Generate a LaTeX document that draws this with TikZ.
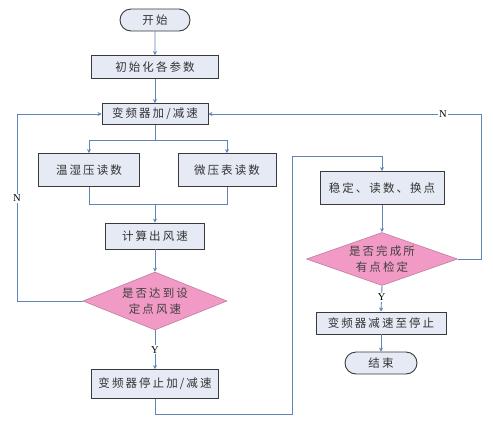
\documentclass[tikz,border=0pt]{standalone}
\usepackage{fontspec}
\setmainfont{Liberation Serif}
\newfontfamily\cjk[LetterSpace=18]{Noto Sans CJK SC}
\usetikzlibrary{shapes.geometric,shapes.misc,arrows.meta}
\definecolor{boxfill}{HTML}{E6EAF5}
\definecolor{lineblue}{HTML}{5F84B8}
\definecolor{diafill}{HTML}{F29AC6}
\definecolor{bordr}{HTML}{3A3A3A}
\tikzset{
  procbox/.style={draw=bordr, line width=0.9pt, fill=boxfill, rectangle, inner sep=0pt, font=\cjk\fontsize{11.5}{13}\selectfont, text=black!80},
  termbox/.style={draw=bordr, line width=0.9pt, fill=boxfill, rounded rectangle, inner sep=0pt, font=\cjk\fontsize{11.5}{13}\selectfont, text=black!80},
  decbox/.style={draw=diafill!80!black, line width=0.6pt, fill=diafill, diamond, aspect=2.5, inner sep=0pt, font=\cjk\fontsize{11.5}{16}\selectfont, text=black!75, align=center},
  conn/.style={draw=lineblue, line width=0.9pt},
  arr/.style={conn, -{Stealth[length=4pt,width=4pt]}},
  lab/.style={font=\fontsize{10.5}{12}\selectfont, fill=white, inner sep=1pt}
}
\begin{document}
\begin{tikzpicture}[x=1pt,y=-1pt]
\useasboundingbox[fill=white] (0,0) rectangle (493,424);
\node[termbox, minimum width=70pt, minimum height=22pt] (start) at (155,20) {开始};
\node[procbox, minimum width=127pt, minimum height=23pt] (init) at (155,67) {初始化各参数};
\node[procbox, minimum width=106pt, minimum height=21pt] (acc) at (155,114) {变频器加/减速};
\node[procbox, minimum width=101pt, minimum height=33pt] (thp) at (89,170) {温湿压读数};
\node[procbox, minimum width=98pt, minimum height=33pt] (mp) at (227,170) {微压表读数};
\node[procbox, minimum width=99pt, minimum height=26pt] (calc) at (155,236) {计算出风速};
\node[decbox, minimum width=144pt, minimum height=58pt] (d1) at (155,301) {是否达到设\\定点风速};
\node[procbox, minimum width=127pt, minimum height=29pt] (stop) at (155,384) {变频器停止加/减速};
\node[procbox, minimum width=124pt, minimum height=33pt] (read) at (382,188) {稳定、读数、换点};
\node[decbox, minimum width=151pt, minimum height=50pt] (d2) at (382,259) {是否完成所\\有点检定};
\node[procbox, minimum width=130pt, minimum height=22pt] (dec) at (381,323) {变频器减速至停止};
\node[termbox, minimum width=72pt, minimum height=22pt] (end) at (381,363) {结束};

\coordinate (s1) at (155,140);
\coordinate (m1) at (155,204);
\coordinate (r1) at (155,414);

\draw[arr] (start) -- (init);
\draw[arr] (init) -- (acc);
\draw[conn] (acc) -- (s1);
\draw[arr] (s1) -| (thp);
\draw[arr] (s1) -| (mp);
\draw[conn] (thp.south) |- (m1);
\draw[conn] (mp.south) |- (m1);
\draw[arr] (m1) -- (calc);
\draw[arr] (calc) -- (d1);
\draw[arr] (d1.west) -- (17,301) -- node[lab, pos=0.55]{N} (17,114) -- (acc.west);
\draw[arr] (d1.south) -- node[lab, pos=0.5]{Y} (stop.north);
\draw[arr] (stop.south) -- (r1) -- (292,414) -- (292,156) -- (382,156) -- (read.north);
\draw[arr] (read) -- (d2);
\draw[arr] (d2.east) -- (481,259) -- (481,114) -- node[lab, pos=0.14]{N} (acc.east);
\draw[arr] (d2.south) -- node[lab, pos=0.45]{Y} (dec.north);
\draw[arr] (dec) -- (end);
\end{tikzpicture}
\end{document}
